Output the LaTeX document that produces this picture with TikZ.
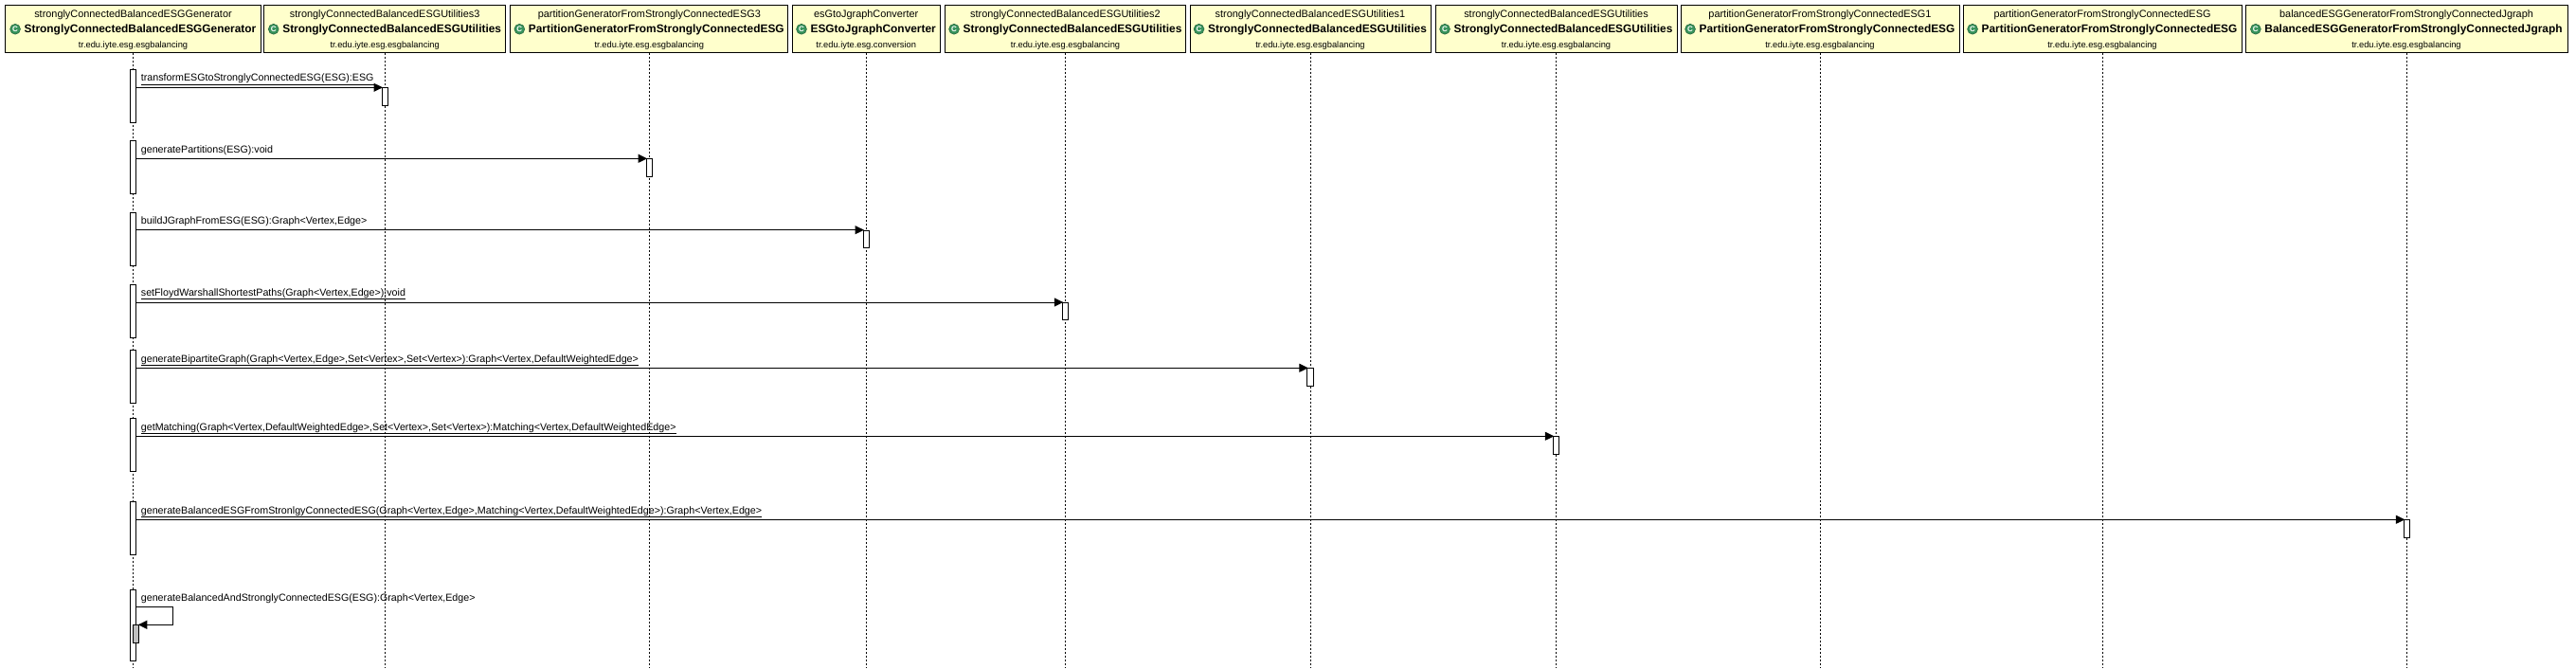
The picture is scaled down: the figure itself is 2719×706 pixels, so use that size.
\documentclass[tikz,border=0pt]{standalone}
\usepackage{fontspec}
\setmainfont{Liberation Sans}
\usepackage{xcolor}
\usetikzlibrary{arrows.meta}
\usetikzlibrary{positioning}
\definecolor{boxYellow}{RGB}{255,255,204}
\definecolor{iconGreen}{RGB}{56,148,92}
\tikzstyle{classBox} = [rectangle, draw=black, line width=1pt, fill=boxYellow, inner sep=0pt, minimum height=50pt]
\tikzstyle{objName} = [anchor=base, inner sep=0pt, font=\fontsize{10.9}{13}\selectfont]
\tikzstyle{className} = [anchor=base, inner sep=0pt, xshift=7.5pt, font=\fontsize{11.9}{14}\selectfont\bfseries]
\tikzstyle{pkgName} = [anchor=base, inner sep=0pt, font=\fontsize{9.3}{11}\selectfont]
\tikzstyle{classIcon} = [circle, draw=iconGreen!70!black, line width=0.6pt, fill=iconGreen, text=white, inner sep=0pt, minimum size=10.8pt, yshift=1.2pt, font=\fontsize{8}{8}\selectfont\bfseries]
\tikzstyle{lifeline} = [line width=1pt, dash pattern=on 2pt off 2pt]
\tikzstyle{actLong} = [rectangle, draw=black, line width=1pt, fill=white, anchor=north, inner sep=0pt, minimum width=6.4pt, minimum height=56.3pt]
\tikzstyle{actShort} = [actLong, minimum height=18.3pt]
\tikzstyle{msg} = [line width=1pt, shorten >=-1.5pt, -{Triangle[length=9.5pt,width=9pt]}]
\tikzstyle{msgLabel} = [anchor=base west, inner sep=0pt, font=\fontsize{10.7}{13}\selectfont]
\newcommand{\ulabel}[1]{\underline{\smash{#1}\rule[-1.5pt]{0pt}{0pt}}}
\begin{document}
\begin{tikzpicture}[x=1pt, y=-1pt]
\useasboundingbox (0,0) rectangle (2719,706);
% class boxes
\node (b_1) [classBox, minimum width=270pt] at (140.5,30.2) {};
\node (b_2) [classBox, minimum width=254.5pt] at (406.2,30.2) {};
\node (b_3) [classBox, minimum width=292.7pt] at (685.3,30.2) {};
\node (b_4) [classBox, minimum width=156.4pt] at (914.2,30.2) {};
\node (b_5) [classBox, minimum width=254.5pt] at (1124.5,30.2) {};
\node (b_6) [classBox, minimum width=254pt] at (1383,30.2) {};
\node (b_7) [classBox, minimum width=255pt] at (1642.5,30.2) {};
\node (b_8) [classBox, minimum width=294pt] at (1921,30.2) {};
\node (b_9) [classBox, minimum width=294pt] at (2219,30.2) {};
\node (b_10) [classBox, minimum width=340pt] at (2540,30.2) {};
% box texts
\node (o_1) [objName] at (140.5,18.5) {stronglyConnectedBalancedESGGenerator};
\node (h_1) [className] at (140.5,35) {StronglyConnectedBalancedESGGenerator};
\node (p_1) [pkgName] at (140.5,50.5) {tr.edu.iyte.esg.esgbalancing};
\node (i_1) [classIcon, left = 3.7pt of h_1] {C};
\node (o_2) [objName] at (406.2,18.5) {stronglyConnectedBalancedESGUtilities3};
\node (h_2) [className] at (406.2,35) {StronglyConnectedBalancedESGUtilities};
\node (p_2) [pkgName] at (406.2,50.5) {tr.edu.iyte.esg.esgbalancing};
\node (i_2) [classIcon, left = 3.7pt of h_2] {C};
\node (o_3) [objName] at (685.3,18.5) {partitionGeneratorFromStronglyConnectedESG3};
\node (h_3) [className] at (685.3,35) {PartitionGeneratorFromStronglyConnectedESG};
\node (p_3) [pkgName] at (685.3,50.5) {tr.edu.iyte.esg.esgbalancing};
\node (i_3) [classIcon, left = 3.7pt of h_3] {C};
\node (o_4) [objName] at (914.2,18.5) {esGtoJgraphConverter};
\node (h_4) [className] at (914.2,35) {ESGtoJgraphConverter};
\node (p_4) [pkgName] at (914.2,50.5) {tr.edu.iyte.esg.conversion};
\node (i_4) [classIcon, left = 3.7pt of h_4] {C};
\node (o_5) [objName] at (1124.5,18.5) {stronglyConnectedBalancedESGUtilities2};
\node (h_5) [className] at (1124.5,35) {StronglyConnectedBalancedESGUtilities};
\node (p_5) [pkgName] at (1124.5,50.5) {tr.edu.iyte.esg.esgbalancing};
\node (i_5) [classIcon, left = 3.7pt of h_5] {C};
\node (o_6) [objName] at (1383,18.5) {stronglyConnectedBalancedESGUtilities1};
\node (h_6) [className] at (1383,35) {StronglyConnectedBalancedESGUtilities};
\node (p_6) [pkgName] at (1383,50.5) {tr.edu.iyte.esg.esgbalancing};
\node (i_6) [classIcon, left = 3.7pt of h_6] {C};
\node (o_7) [objName] at (1642.5,18.5) {stronglyConnectedBalancedESGUtilities};
\node (h_7) [className] at (1642.5,35) {StronglyConnectedBalancedESGUtilities};
\node (p_7) [pkgName] at (1642.5,50.5) {tr.edu.iyte.esg.esgbalancing};
\node (i_7) [classIcon, left = 3.7pt of h_7] {C};
\node (o_8) [objName] at (1921,18.5) {partitionGeneratorFromStronglyConnectedESG1};
\node (h_8) [className] at (1921,35) {PartitionGeneratorFromStronglyConnectedESG};
\node (p_8) [pkgName] at (1921,50.5) {tr.edu.iyte.esg.esgbalancing};
\node (i_8) [classIcon, left = 3.7pt of h_8] {C};
\node (o_9) [objName] at (2219,18.5) {partitionGeneratorFromStronglyConnectedESG};
\node (h_9) [className] at (2219,35) {PartitionGeneratorFromStronglyConnectedESG};
\node (p_9) [pkgName] at (2219,50.5) {tr.edu.iyte.esg.esgbalancing};
\node (i_9) [classIcon, left = 3.7pt of h_9] {C};
\node (o_10) [objName] at (2540,18.5) {balancedESGGeneratorFromStronglyConnectedJgraph};
\node (h_10) [className] at (2540,35) {BalancedESGGeneratorFromStronglyConnectedJgraph};
\node (p_10) [pkgName] at (2540,50.5) {tr.edu.iyte.esg.esgbalancing};
\node (i_10) [classIcon, left = 3.7pt of h_10] {C};
% lifelines
\coordinate (e_1) at (140.5,705);
\coordinate (e_2) at (406.2,705);
\coordinate (e_3) at (685.3,705);
\coordinate (e_4) at (914.2,705);
\coordinate (e_5) at (1124.5,705);
\coordinate (e_6) at (1383,705);
\coordinate (e_7) at (1642.5,705);
\coordinate (e_8) at (1921,705);
\coordinate (e_9) at (2219,705);
\coordinate (e_10) at (2540.5,705);
\draw [lifeline] (b_1) -- (e_1);
\draw [lifeline] (b_2) -- (e_2);
\draw [lifeline] (b_3) -- (e_3);
\draw [lifeline] (b_4) -- (e_4);
\draw [lifeline] (b_5) -- (e_5);
\draw [lifeline] (b_6) -- (e_6);
\draw [lifeline] (b_7) -- (e_7);
\draw [lifeline] (b_8) -- (e_8);
\draw [lifeline] (b_9) -- (e_9);
\draw [lifeline] (b_10.south -| e_10) -- (e_10);
% activations
\node (a_1) [actLong] at (140.5,73) {};
\node (a_2) [actLong] at (140.5,148) {};
\node (a_3) [actLong] at (140.5,224) {};
\node (a_4) [actLong] at (140.5,300) {};
\node (a_5) [actLong] at (140.5,369) {};
\node (a_6) [actLong] at (140.5,441) {};
\node (a_7) [actLong] at (140.5,529) {};
\node (a_8) [actLong, minimum height=75pt] at (140.5,621.7) {};
\node (t_1) [actShort] at (406.2,92.3) {};
\node (t_2) [actShort] at (685.3,167.3) {};
\node (t_3) [actShort] at (914.2,242.7) {};
\node (t_4) [actShort] at (1124.5,319) {};
\node (t_5) [actShort] at (1383,388.3) {};
\node (t_6) [actShort] at (1642.5,460.3) {};
\node (t_7) [actShort] at (2540.5,548.3) {};
\node (t_8) [actShort, fill=black!25] at (143.6,659.3) {};
% messages
\draw [msg] (t_1.north west -| a_1.east) -- (t_1.north west);
\draw [msg] (t_2.north west -| a_2.east) -- (t_2.north west);
\draw [msg] (t_3.north west -| a_3.east) -- (t_3.north west);
\draw [msg] (t_4.north west -| a_4.east) -- (t_4.north west);
\draw [msg] (t_5.north west -| a_5.east) -- (t_5.north west);
\draw [msg] (t_6.north west -| a_6.east) -- (t_6.north west);
\draw [msg] (t_7.north west -| a_7.east) -- (t_7.north west);
\coordinate (s_1) at (143.7,640.3);
\coordinate (s_2) at (182.3,640.3);
\coordinate (s_3) at (182.3,659.3);
\draw [msg] (s_1) -- (s_2) -- (s_3) -- (t_8.north east);
% message labels
\node (l_1) [msgLabel] at (148.7,86) {\ulabel{transformESGtoStronglyConnectedESG(ESG):ESG}};
\node (l_2) [msgLabel] at (148.7,161) {generatePartitions(ESG):void};
\node (l_3) [msgLabel] at (148.7,236.4) {buildJGraphFromESG(ESG):Graph<Vertex,Edge>};
\node (l_4) [msgLabel] at (148.7,312.7) {\ulabel{setFloydWarshallShortestPaths(Graph<Vertex,Edge>):void}};
\node (l_5) [msgLabel] at (148.7,382) {\ulabel{generateBipartiteGraph(Graph<Vertex,Edge>,Set<Vertex>,Set<Vertex>):Graph<Vertex,DefaultWeightedEdge>}};
\node (l_6) [msgLabel] at (148.7,454) {\ulabel{getMatching(Graph<Vertex,DefaultWeightedEdge>,Set<Vertex>,Set<Vertex>):Matching<Vertex,DefaultWeightedEdge>}};
\node (l_7) [msgLabel] at (148.7,542) {\ulabel{generateBalancedESGFromStronlgyConnectedESG(Graph<Vertex,Edge>,Matching<Vertex,DefaultWeightedEdge>):Graph<Vertex,Edge>}};
\node (l_8) [msgLabel] at (148.7,634) {generateBalancedAndStronglyConnectedESG(ESG):Graph<Vertex,Edge>};
\end{tikzpicture}
\end{document}
